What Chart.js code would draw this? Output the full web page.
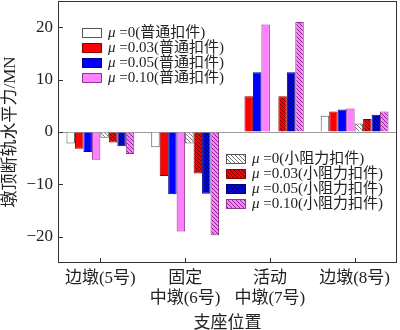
<!DOCTYPE html>
<html>
<head>
<meta charset="utf-8">
<script src="https://cdn.jsdelivr.net/npm/chart.js@4.4.1/dist/chart.umd.min.js"></script>
<style>
  html, body { margin: 0; padding: 0; background: #fff; }
  #wrap { width: 400px; height: 330px; }
</style>
</head>
<body>
<div id="wrap"><canvas id="forceChart" width="400" height="330"></canvas></div>
<script>
// 支座位置
const categories = [['边墩(5号)'], ['固定', '中墩(6号)'], ['活动', '中墩(7号)'], ['边墩(8号)']];
const yTicks = [-20, -10, 0, 10, 20];

// 普通扣件
const ptMu0 = [-2.2, -2.9, 0, 3.1];
const ptMu003 = [-3.2, -8.4, 6.8, 3.9];
const ptMu005 = [-3.8, -11.9, 11.4, 4.3];
const ptMu010 = [-5.3, -19.0, 20.5, 4.5];
// 小阻力扣件
const lrMu0 = [-1.1, -2.2, 0, 1.6];
const lrMu003 = [-2.0, -7.9, 6.8, 2.5];
const lrMu005 = [-2.7, -11.8, 11.4, 3.3];
const lrMu010 = [-4.2, -19.7, 21.0, 3.9];

const muLabels = ['=0', '=0.03', '=0.05', '=0.10'];

const FONT = '"Liberation Serif", "Noto Sans CJK SC", serif';

function hatch(bg, line) {
    const s = 4;
    const c = document.createElement('canvas');
    c.width = s; c.height = s;
    const g = c.getContext('2d');
    g.fillStyle = bg;
    g.fillRect(0, 0, s, s);
    g.strokeStyle = line;
    g.lineWidth = 1;
    g.beginPath();
    g.moveTo(-1, -1); g.lineTo(s + 1, s + 1);
    g.moveTo(-s - 1, -1); g.lineTo(1, s + 1);
    g.moveTo(s - 1, -1); g.lineTo(2 * s + 1, s + 1);
    g.stroke();
    return g.createPattern(c, 'repeat');
}

const fills = ['#ffffff', '#ff0000', '#0000ff', '#ff80ff'];
const edges = ['#555555', '#8a0000', '#00008a', '#8a3a8a'];
const hatchLines = ['#777777', '#7a0000', '#000070', '#8a2a8a'];

const ptSeries = [ptMu0, ptMu003, ptMu005, ptMu010];
const lrSeries = [lrMu0, lrMu003, lrMu005, lrMu010];

const datasets = [];
ptSeries.forEach((d, i) => {
    datasets.push({
        label: 'μ ' + muLabels[i] + '(普通扣件)',
        data: d,
        backgroundColor: fills[i],
        borderColor: edges[i],
        borderWidth: 1,
        group: 0
    });
});
lrSeries.forEach((d, i) => {
    datasets.push({
        label: 'μ ' + muLabels[i] + '(小阻力扣件)',
        data: d,
        backgroundColor: hatch(fills[i], hatchLines[i]),
        borderColor: edges[i],
        borderWidth: 1,
        group: 1
    });
});

// frame, inward ticks and the two legend blocks
const decorations = {
    id: 'decorations',
    afterDatasetsDraw(chart) {
        const { ctx, chartArea: a, scales } = chart;
        ctx.save();
        ctx.strokeStyle = '#333';
        ctx.lineWidth = 1;
        ctx.strokeRect(a.left + 0.5, a.top + 0.5, a.right - a.left - 1, a.bottom - a.top - 1);
        ctx.beginPath();
        yTicks.forEach(v => {
            const y = Math.round(scales.y.getPixelForValue(v)) + 0.5;
            ctx.moveTo(a.left, y); ctx.lineTo(a.left + 5, y);
        });
        categories.forEach((c, i) => {
            const x = Math.round(scales.x.getPixelForValue(i)) + 0.5;
            ctx.moveTo(x, a.bottom); ctx.lineTo(x, a.bottom - 5);
        });
        ctx.stroke();

        const blocks = [
            { group: 0, x: a.left + 24, y: a.top + 32 },
            { group: 1, x: a.left + 168, y: a.top + 158 }
        ];
        blocks.forEach(b => {
            const items = chart.data.datasets.filter(d => d.group === b.group);
            items.forEach((d, i) => {
                const cy = b.y + i * 15;
                ctx.fillStyle = d.backgroundColor;
                ctx.fillRect(b.x, cy - 5, 20, 10);
                ctx.strokeStyle = d.borderColor;
                ctx.strokeRect(b.x + 0.5, cy - 4.5, 19, 9);
                const tx = b.x + 26;
                ctx.fillStyle = '#222';
                ctx.textBaseline = 'middle';
                ctx.font = 'italic 15px ' + FONT;
                ctx.fillText('μ', tx, cy);
                const w = ctx.measureText('μ').width;
                ctx.font = '15px ' + FONT;
                ctx.fillText(d.label.slice(1), tx + w, cy);
            });
        });
        ctx.restore();
    }
};

new Chart(document.getElementById('forceChart'), {
    type: 'bar',
    data: { labels: categories, datasets: datasets },
    options: {
        responsive: false,
        animation: false,
        layout: { padding: { top: 1, right: 3 } },
        datasets: { bar: { categoryPercentage: 0.8, barPercentage: 1 } },
        plugins: { legend: { display: false }, tooltip: { enabled: false } },
        scales: {
            x: {
                grid: { display: false, drawTicks: false },
                border: { display: false },
                ticks: { color: '#222', font: { family: FONT, size: 17 }, padding: 5, maxRotation: 0 },
                title: { display: true, text: '支座位置', color: '#222', font: { family: FONT, size: 17 }, padding: { top: 0, bottom: -4 } },
                afterFit(s) { s.height = 67; s.paddingLeft = 0; s.paddingRight = 0; }
            },
            y: {
                min: -25,
                max: 25,
                afterBuildTicks(s) { s.ticks = yTicks.map(v => ({ value: v })); },
                grid: {
                    drawTicks: false,
                    color: c => (c.tick && c.tick.value === 0 ? '#999' : 'rgba(0,0,0,0)')
                },
                border: { display: false },
                ticks: {
                    color: '#222',
                    font: { family: FONT, size: 17 },
                    padding: 5,
                    callback: v => String(v).replace('-', '−')
                },
                title: { display: true, text: '墩顶断轨水平力/MN', color: '#222', font: { family: FONT, size: 17 }, padding: 0 },
                afterFit(s) { s.width = 58; s.paddingTop = 0; s.paddingBottom = 0; }
            }
        }
    },
    plugins: [decorations]
});
</script>
</body>
</html>
